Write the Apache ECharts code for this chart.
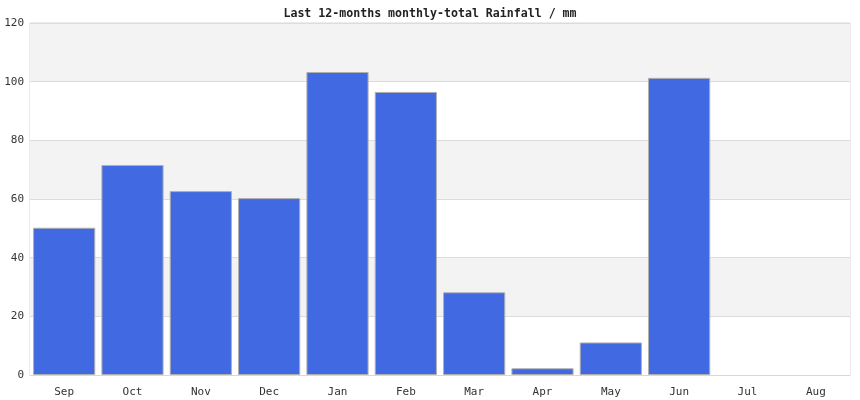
<!DOCTYPE html>
<html><head><meta charset="utf-8">
<script src="https://cdn.jsdelivr.net/npm/echarts@6/dist/echarts.min.js"></script>
<style>html,body{margin:0;padding:0;background:#fff}#c{width:860px;height:400px}</style>
</head><body><div id="c"></div>
<script>
const months = ['Sep','Oct','Nov','Dec','Jan','Feb','Mar','Apr','May','Jun','Jul','Aug'];
const rainfall = [50.2, 71.6, 62.7, 60.3, 103.3, 96.5, 28.2, 2.3, 11.1, 101.3, 0, 0];
const yTicks = {min: 0, max: 120, interval: 20};
const titleText = 'Last 12-months monthly-total Rainfall / mm';
const font = '"DejaVu Sans Mono", "Liberation Mono", monospace';
const chart = echarts.init(document.getElementById('c'), null, {renderer: 'canvas'});
chart.setOption({
  animation: false,
  title: {text: titleText, left: 'center', top: 3,
    textStyle: {fontFamily: font, fontSize: 11.6, fontWeight: 'bold', color: '#222'}},
  grid: {left: 30, right: 10, top: 23, bottom: 25, containLabel: false,
    show: true, borderColor: '#d8d8d8', borderWidth: 1, backgroundColor: 'transparent'},
  xAxis: {type: 'category', data: months,
    axisLine: {show: true, lineStyle: {color: '#d8d8d8'}},
    axisTick: {show: false},
    axisLabel: {fontFamily: font, fontSize: 11, color: '#333', margin: 12}},
  yAxis: {type: 'value', min: yTicks.min, max: yTicks.max, interval: yTicks.interval,
    axisLine: {show: false}, axisTick: {show: false},
    axisLabel: {fontFamily: font, fontSize: 11, color: '#333', margin: 6},
    splitLine: {show: true, lineStyle: {color: '#dcdcdc'}},
    splitArea: {show: true, areaStyle: {color: ['#ffffff', '#f3f3f3']}}},
  series: [{type: 'bar', barCategoryGap: '9%',
    data: rainfall.map(v => ({value: v, itemStyle: {borderWidth: v > 0 ? 1 : 0}})),
    itemStyle: {color: '#4169e1', borderColor: '#b0b0b0', borderWidth: 1}}]
});
</script></body></html>
